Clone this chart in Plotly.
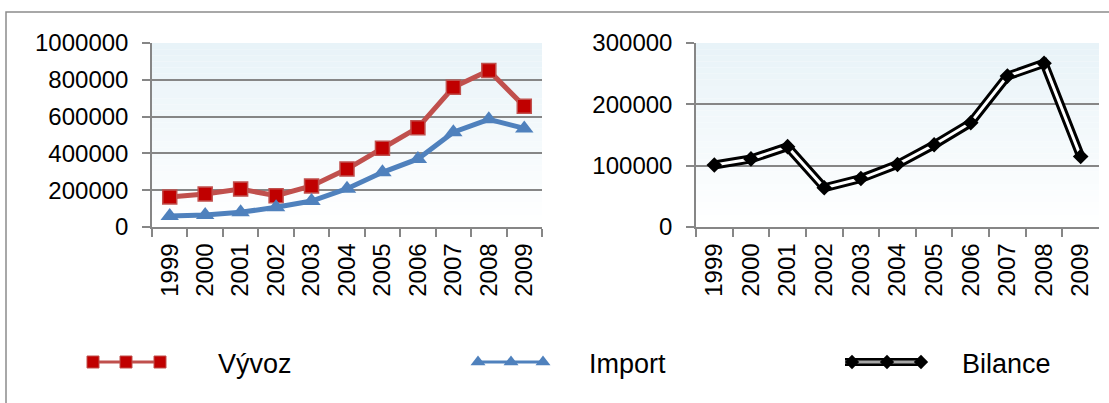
import plotly.graph_objects as go

# Trade data (thousands), 1999-2009
years = ["1999", "2000", "2001", "2002", "2003", "2004", "2005", "2006", "2007", "2008", "2009"]
vyvoz = [163000, 179000, 206000, 170000, 223000, 315000, 428000, 540000, 759000, 851000, 656000]
dovoz = [60000, 65000, 80000, 107000, 141000, 208000, 297000, 370000, 515000, 585000, 536000]
bilance = [101000, 111000, 131000, 64000, 79000, 102000, 134000, 170000, 246000, 267000, 115000]

left_ticks = [0, 200000, 400000, 600000, 800000, 1000000]
right_ticks = [0, 100000, 200000, 300000]

RED_LINE = "#C0504D"
RED_FILL = "#C00000"
BLUE = "#4F81BD"
GRID = "#868686"
FONT = "Liberation Sans"

W, H = 1109, 403
fig = go.Figure()

# left panel: exports and imports
fig.add_trace(go.Scatter(
    x=years, y=vyvoz, mode="lines+markers", name="Vývoz",
    line=dict(color=RED_LINE, width=5),
    marker=dict(symbol="square", size=14, color=RED_FILL, line=dict(color=RED_LINE, width=1.5)),
    xaxis="x", yaxis="y", showlegend=False))
fig.add_trace(go.Scatter(
    x=years, y=dovoz, mode="lines+markers", name="Import",
    line=dict(color=BLUE, width=5),
    marker=dict(symbol="triangle-up", size=16, color=BLUE),
    xaxis="x", yaxis="y", showlegend=False))

# right panel: balance drawn as a double line (black outline, white core)
fig.add_trace(go.Scatter(
    x=years, y=bilance, mode="lines", line=dict(color="black", width=9),
    xaxis="x2", yaxis="y2", showlegend=False, hoverinfo="skip"))
fig.add_trace(go.Scatter(
    x=years, y=bilance, mode="lines", line=dict(color="white", width=3),
    xaxis="x2", yaxis="y2", showlegend=False, hoverinfo="skip"))
fig.add_trace(go.Scatter(
    x=years, y=bilance, mode="markers", name="Bilance",
    marker=dict(symbol="diamond", size=12, color="black"),
    xaxis="x2", yaxis="y2", showlegend=False))

# legend samples on a pixel-scaled overlay axis
leg_y = 362
def leg_sample(xs, line, marker):
    fig.add_trace(go.Scatter(
        x=xs, y=[leg_y] * len(xs), mode="lines+markers", line=line, marker=marker,
        xaxis="x3", yaxis="y3", showlegend=False, hoverinfo="skip"))

leg_sample([93, 126, 160], dict(color=RED_LINE, width=3),
           dict(symbol="square", size=12, color=RED_FILL, line=dict(color=RED_LINE, width=1)))
leg_sample([478, 511, 543], dict(color=BLUE, width=3),
           dict(symbol="triangle-up", size=13, color=BLUE))
fig.add_trace(go.Scatter(
    x=[845, 924], y=[leg_y, leg_y], mode="lines", line=dict(color="black", width=8),
    xaxis="x3", yaxis="y3", showlegend=False, hoverinfo="skip"))
fig.add_trace(go.Scatter(
    x=[845, 924], y=[leg_y, leg_y], mode="lines", line=dict(color="#A6A6A6", width=3),
    xaxis="x3", yaxis="y3", showlegend=False, hoverinfo="skip"))
fig.add_trace(go.Scatter(
    x=[852, 887, 921], y=[leg_y] * 3, mode="markers",
    marker=dict(symbol="diamond", size=11, color="black"),
    xaxis="x3", yaxis="y3", showlegend=False, hoverinfo="skip"))

for txt, x in [("Vývoz", 216), ("Import", 587), ("Bilance", 960)]:
    fig.add_annotation(x=x / W, y=1 - (leg_y + 2) / H, xref="paper", yref="paper",
                       text=txt, showarrow=False, xanchor="left", yanchor="middle",
                       font=dict(family=FONT, size=27, color="black"))

# soft vertical gradient behind each plot area
shapes = []
n = 30
top_rgb = (232, 243, 248)
for ax in ["", "2"]:
    for i in range(n):
        t = i / (n - 1)
        r = round(255 + (top_rgb[0] - 255) * t)
        g = round(255 + (top_rgb[1] - 255) * t)
        b = round(255 + (top_rgb[2] - 255) * t)
        shapes.append(dict(type="rect", xref=f"x{ax} domain", yref=f"y{ax} domain",
                           x0=0, x1=1, y0=i / n, y1=(i + 1) / n, layer="below",
                           line=dict(width=0), fillcolor=f"rgb({r},{g},{b})"))

# outer chart frame
shapes.append(dict(type="path", xref="paper", yref="paper",
                   path=f"M {6 / W} 0 L {6 / W} {1 - 12 / H} L 1.01 {1 - 12 / H}",
                   line=dict(color="#8C8C8C", width=1.5)))

xdom_l = [152 / W, 542 / W]
xdom_r = [696 / W, 1099 / W]
ydom = [1 - 227 / H, 1 - 43 / H]

xaxis_common = dict(
    type="category", range=[-0.5, 10.5], tickson="boundaries", ticks="outside",
    ticklen=8, tickwidth=1.5, tickcolor=GRID, showline=True, linecolor=GRID, linewidth=1.5,
    showgrid=False, tickangle=-90, tickfont=dict(family=FONT, size=24, color="black"),
    ticklabelstandoff=5, fixedrange=True, automargin=False)
yaxis_common = dict(
    ticks="outside", ticklen=8, tickwidth=1.5, tickcolor=GRID, showline=True,
    linecolor=GRID, linewidth=1.5, showgrid=True, gridcolor=GRID, gridwidth=1.5,
    zeroline=False, tickformat="d", tickfont=dict(family=FONT, size=24, color="black"),
    ticklabelstandoff=9, fixedrange=True, automargin=False)

fig.update_layout(
    width=W, height=H, margin=dict(l=0, r=0, t=0, b=0, pad=0, autoexpand=False),
    paper_bgcolor="white", plot_bgcolor="rgba(0,0,0,0)", showlegend=False,
    xaxis=dict(domain=xdom_l, anchor="y", **xaxis_common),
    yaxis=dict(domain=ydom, anchor="x", range=[0, 1000000], tickvals=left_ticks, **yaxis_common),
    xaxis2=dict(domain=xdom_r, anchor="y2", **xaxis_common),
    yaxis2=dict(domain=ydom, anchor="x2", range=[0, 300000], tickvals=right_ticks, **yaxis_common),
    xaxis3=dict(domain=[0, 1], anchor="y3", range=[0, W], visible=False, fixedrange=True),
    yaxis3=dict(domain=[0, 1], anchor="x3", range=[H, 0], visible=False, fixedrange=True),
    shapes=shapes,
)

fig.write_html("out.html")
